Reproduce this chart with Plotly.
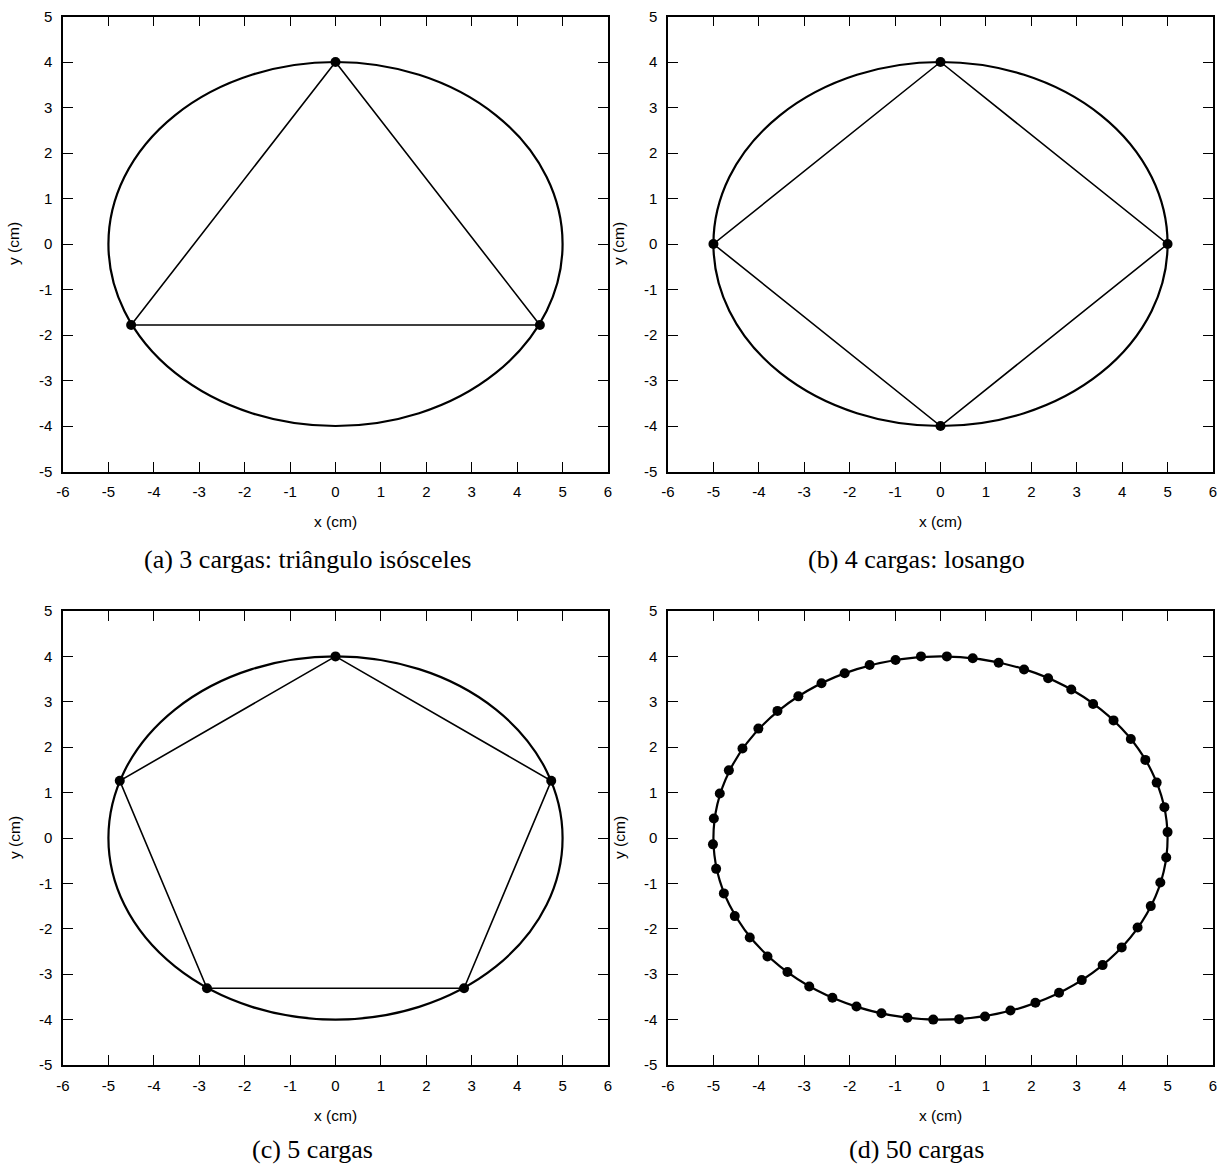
import plotly.graph_objects as go

# Charge positions (cm) on the ellipse x^2/5^2 + y^2/4^2 = 1
a_x = [0.0, 4.5, -4.5]
a_y = [4.0, -1.78, -1.78]

b_x = [0.0, 5.0, 0.0, -5.0]
b_y = [4.0, 0.0, -4.0, 0.0]

c_x = [0.0, 4.75, 2.83, -2.83, -4.75]
c_y = [4.0, 1.26, -3.31, -3.31, 1.26]

d_x = [0.14, 0.71, 1.28, 1.84, 2.37, 2.88, 3.36, 3.81, 4.19, 4.51,
       4.76, 4.93, 5.00, 4.97, 4.84, 4.63, 4.34, 3.99, 3.57, 3.11,
       2.61, 2.09, 1.54, 0.98, 0.41, -0.16, -0.73, -1.30, -1.85, -2.38,
       -2.89, -3.37, -3.81, -4.20, -4.53, -4.77, -4.94, -5.01, -4.99, -4.86,
       -4.66, -4.36, -4.01, -3.59, -3.13, -2.62, -2.11, -1.56, -0.99, -0.43]
d_y = [4.00, 3.96, 3.86, 3.71, 3.52, 3.27, 2.95, 2.59, 2.18, 1.72,
       1.22, 0.68, 0.13, -0.43, -0.98, -1.50, -1.97, -2.41, -2.80, -3.13,
       -3.41, -3.63, -3.80, -3.93, -3.99, -4.00, -3.96, -3.86, -3.71, -3.52,
       -3.27, -2.95, -2.61, -2.19, -1.72, -1.22, -0.68, -0.14, 0.43, 0.98,
       1.49, 1.97, 2.41, 2.80, 3.12, 3.41, 3.63, 3.81, 3.92, 4.00]

ellipse_a, ellipse_b = 5.0, 4.0

x_ticks = list(range(-6, 7))
y_ticks = list(range(-5, 6))

captions = ["(a) 3 cargas: triângulo isósceles", "(b) 4 cargas: losango",
            "(c) 5 cargas", "(d) 50 cargas"]

W, H = 1229, 1165
# panel frames in pixels: (left, right, top, bottom)
frames = [(63, 608, 16.5, 471.5), (668, 1213, 16.5, 471.5),
          (63, 608, 611, 1065), (668, 1213, 611, 1065)]
# caption centres in pixels (x); top-row captions sit under the x titles,
# bottom-row captions rest on the lower page edge
caption_cx = [307.5, 916, 312, 916]


def px_x(v):
    return v / W


def px_y(v):
    return 1 - v / H


fig = go.Figure()
panels = [(a_x, a_y, True), (b_x, b_y, True), (c_x, c_y, True), (d_x, d_y, False)]

tick_font = dict(family="Liberation Sans, Arial, sans-serif", size=15, color="black")
title_font = dict(family="Liberation Sans, Arial, sans-serif", size=15.5, color="black")
caption_font = dict(family="Liberation Serif, Times New Roman, serif", size=26, color="black")

for i, (px, py, closed) in enumerate(panels):
    n = i + 1
    xa = "x" if n == 1 else f"x{n}"
    ya = "y" if n == 1 else f"y{n}"
    if closed:
        fig.add_trace(go.Scatter(
            x=px + [px[0]], y=py + [py[0]], xaxis=xa, yaxis=ya,
            mode="lines", line=dict(color="black", width=1.6),
            showlegend=False, hoverinfo="skip"))
    fig.add_trace(go.Scatter(
        x=px, y=py, xaxis=xa, yaxis=ya, mode="markers",
        marker=dict(color="black", size=10), showlegend=False))
    fig.add_shape(type="circle", xref=xa, yref=ya,
                  x0=-ellipse_a, x1=ellipse_a, y0=-ellipse_b, y1=ellipse_b,
                  line=dict(color="black", width=2.2), layer="below")

    l, r, t, b = frames[i]
    axis_common = dict(showgrid=False, zeroline=False, showline=True,
                       linecolor="black", linewidth=1.5, mirror="ticks",
                       ticks="inside", ticklen=10, tickwidth=1.2, tickcolor="black",
                       tickfont=tick_font, ticklabelstandoff=6, fixedrange=True,
                       automargin=False)
    fig.layout[f"xaxis{n if n > 1 else ''}"] = dict(
        domain=[px_x(l), px_x(r)], anchor=ya, range=[-6, 6],
        tickvals=x_ticks, ticktext=[str(v) for v in x_ticks], **axis_common)
    fig.layout[f"yaxis{n if n > 1 else ''}"] = dict(
        domain=[px_y(b), px_y(t)], anchor=xa, range=[-5, 5],
        tickvals=y_ticks, ticktext=[str(v) for v in y_ticks], **axis_common)

    cx = (l + r) / 2
    cy = (t + b) / 2
    fig.add_annotation(text="x (cm)", xref="paper", yref="paper",
                       x=px_x(cx), y=px_y(b + 50), showarrow=False,
                       xanchor="center", yanchor="middle", font=title_font)
    fig.add_annotation(text="y (cm)", xref="paper", yref="paper",
                       x=px_x(l - 49), y=px_y(cy), showarrow=False, textangle=-90,
                       xanchor="center", yanchor="middle", font=title_font)
    if i < 2:
        cap_y, cap_anchor = px_y(b + 88), "middle"
    else:
        cap_y, cap_anchor = 0, "bottom"
    fig.add_annotation(text=captions[i], xref="paper", yref="paper",
                       x=px_x(caption_cx[i]), y=cap_y, showarrow=False,
                       xanchor="center", yanchor=cap_anchor, borderpad=0,
                       font=caption_font)

fig.update_layout(width=W, height=H,
                  margin=dict(l=0, r=0, t=0, b=0, pad=0, autoexpand=False),
                  paper_bgcolor="white", plot_bgcolor="white")

fig.write_html("out.html")
